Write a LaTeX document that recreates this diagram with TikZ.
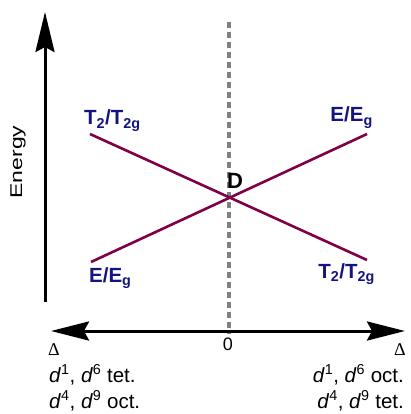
\documentclass[tikz,border=0pt]{standalone}
\usepackage{fontspec}
\setmainfont{Liberation Sans}
\newfontfamily\serifdelta{Liberation Serif}
\usetikzlibrary{arrows.meta}
\definecolor{linecol}{RGB}{128,0,72}
\definecolor{labcol}{RGB}{20,20,128}
\definecolor{dashcol}{RGB}{128,128,128}
\tikzset{
  axis/.style={line width=3pt, {Stealth[length=40pt,width=19pt,inset=5pt]}-},
  haxis/.style={line width=3pt, {Stealth[length=38pt,width=19pt,inset=5pt]}-{Stealth[length=38pt,width=19pt,inset=5pt]}},
  level/.style={draw=linecol, line width=2.6pt},
  lab/.style={text=labcol, font=\bfseries\fontsize{20.5}{22}\selectfont, inner sep=0pt},
  txt/.style={font=\fontsize{20.5}{22}\selectfont, inner sep=0pt},
  deltalab/.style={font=\serifdelta\fontsize{18}{20}\selectfont, inner sep=0pt, anchor=base},
}
\newcommand{\sbs}[1]{\textsubscript{#1}}
\newcommand{\sps}[1]{\textsuperscript{#1}}
\begin{document}
\begin{tikzpicture}[x=1pt,y=-1pt]
\useasboundingbox (0,0) rectangle (411,414);
% dashed zero line
\coordinate (ztop) at (229,22);
\coordinate (zbot) at (229,334);
\draw[dashcol, line width=3.5pt, dash pattern=on 6pt off 4pt] (ztop) -- (zbot);
% energy axis
\coordinate (etop) at (45,12);
\coordinate (ebot) at (45,302);
\draw[axis] (etop) -- (ebot);
\node[font=\fontsize{17}{20}\selectfont, inner sep=0pt, rotate=90, xscale=1.35] (energy) at (18,162) {Energy};
% horizontal axis
\coordinate (hl) at (51,331);
\coordinate (hr) at (405,331);
\draw[haxis] (hl) -- (hr);
% levels
\coordinate (t2l) at (90,134);
\coordinate (t2r) at (367,260);
\coordinate (el) at (91,262);
\coordinate (er) at (367,134);
\draw[level] (t2l) -- (t2r);
\draw[level] (el) -- (er);
% labels
\node[lab, anchor=base west] (lt2) at (84,125) {T\sbs{2}/T\sbs{2g}};
\node[lab, anchor=base east] (rE) at (373,122) {E/E\sbs{g}};
\node[lab, anchor=base west] (lE) at (89,282) {E/E\sbs{g}};
\node[lab, anchor=base east] (rt2) at (375,278) {T\sbs{2}/T\sbs{2g}};
\node[font=\bfseries\fontsize{22}{24}\selectfont, inner sep=0pt, anchor=base] (D) at (235,188) {D};
\node[font=\fontsize{18}{20}\selectfont, inner sep=0pt, anchor=base] (zero) at (228,350) {0};
\node[deltalab] (dl) at (54,355) {Δ};
\node[deltalab] (dr) at (400,355) {Δ};
\node[txt, anchor=base west] (l1) at (49,382) {\textit{d}\sps{1}, \textit{d}\sps{6} tet.};
\node[txt, anchor=base west] (l2) at (49,408) {\textit{d}\sps{4}, \textit{d}\sps{9} oct.};
\node[txt, anchor=base east] (r1) at (404,382) {\textit{d}\sps{1}, \textit{d}\sps{6} oct.};
\node[txt, anchor=base east] (r2) at (404,408) {\textit{d}\sps{4}, \textit{d}\sps{9} tet.};
\end{tikzpicture}
\end{document}
